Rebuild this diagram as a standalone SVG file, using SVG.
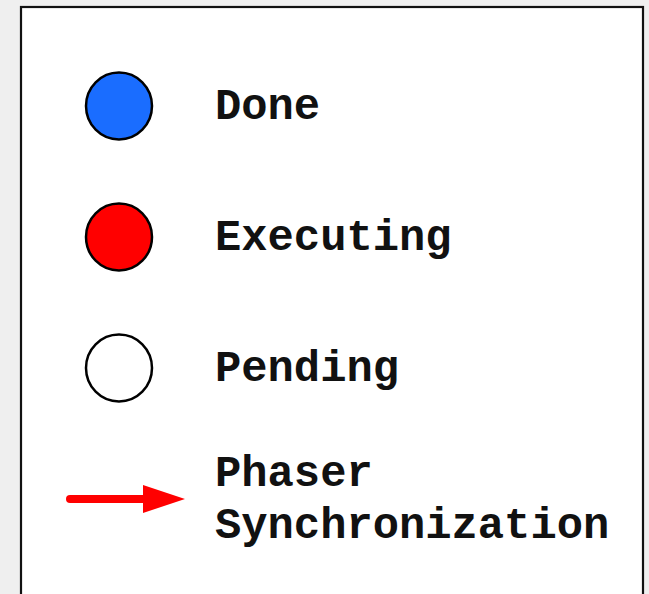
<svg xmlns="http://www.w3.org/2000/svg" width="649" height="594" viewBox="0 0 649 594">
<style>
.lbl{font-family:"Courier New","Nimbus Mono PS","Liberation Mono",monospace;font-weight:bold;font-size:43.8px;fill:#111}
.dot{stroke:#000;stroke-width:2.5}
</style>
<defs>
<marker id="ah" markerUnits="userSpaceOnUse" markerWidth="44" markerHeight="30" refX="0" refY="14" orient="auto" overflow="visible">
<path d="M0,0 L42,14 L0,28 Z" fill="#ff0000"/>
</marker>
</defs>
<rect x="0" y="0" width="649" height="594" fill="#efefef"/>
<rect x="21" y="7" width="622" height="600" fill="#ffffff" stroke="#111" stroke-width="2.2"/>
<g id="done">
<ellipse class="dot" cx="119" cy="106" rx="33" ry="33.5" fill="#1a6dff"/>
<text class="lbl" x="215" y="119">Done</text>
</g>
<g id="executing">
<ellipse class="dot" cx="119" cy="237" rx="33" ry="33.5" fill="#ff0000"/>
<text class="lbl" x="215" y="250">Executing</text>
</g>
<g id="pending">
<ellipse class="dot" cx="119" cy="368" rx="33" ry="33.5" fill="#ffffff"/>
<text class="lbl" x="215" y="381">Pending</text>
</g>
<g id="connectors">
<line x1="70" y1="499" x2="143" y2="499" stroke="#ff0000" stroke-width="8" stroke-linecap="round" marker-end="url(#ah)"/>
</g>
<g id="phaser">
<text class="lbl" x="215" y="486">Phaser</text>
<text class="lbl" x="215" y="538">Synchronization</text>
</g>
</svg>
